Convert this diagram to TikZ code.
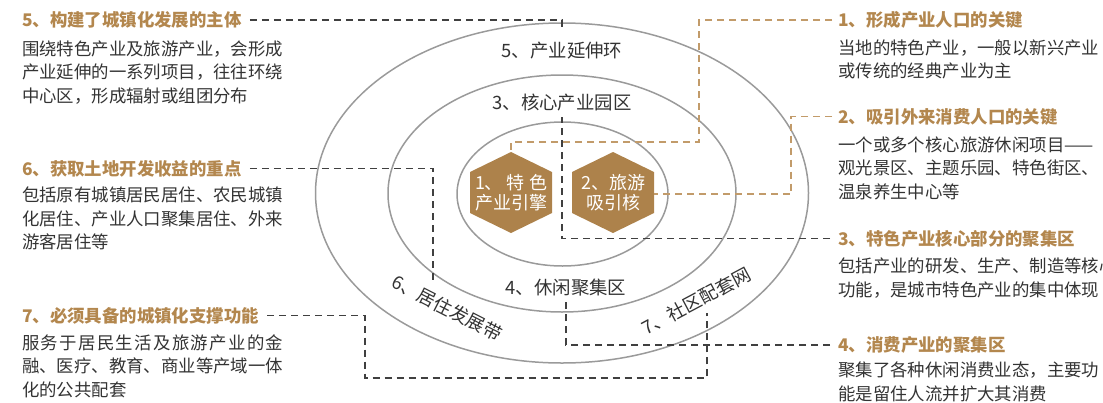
\documentclass[tikz,border=0pt]{standalone}
\usepackage{fontspec}
\setmainfont{Noto Sans CJK SC}
\usetikzlibrary{positioning}

\definecolor{gold}{HTML}{B3874E}
\definecolor{hexbrown}{HTML}{AD824B}
\definecolor{dashgold}{HTML}{C29B6A}
\definecolor{ringgray}{HTML}{9A9A9A}
\definecolor{txtgray}{HTML}{333333}
\definecolor{dashgray}{HTML}{404040}

\begin{document}
\begin{tikzpicture}[x=1pt, y=1pt,
  ring/.style={draw=ringgray, line width=1.5pt},
  title/.style={anchor=west, inner sep=0pt, text=gold,
    font=\fontsize{17.4}{17.4}\selectfont\bfseries, text height=15.3pt, text depth=2.1pt},
  body/.style={anchor=base west, inner sep=0pt, align=left, text=txtgray,
    font=\fontsize{17.4}{23.5}\selectfont},
  ringlabel/.style={inner sep=1pt, text=txtgray,
    font=\fontsize{18.4}{18.4}\selectfont, text height=16.2pt, text depth=2.2pt},
  hexlabel/.style={inner sep=0pt, align=center, text=white,
    font=\fontsize{18}{20}\selectfont},
  graydash/.style={draw=dashgray, line width=1.2pt, dash pattern=on 7pt off 5pt, shorten <=8pt},
  golddash/.style={draw=dashgold, line width=1.2pt, dash pattern=on 7pt off 5pt, shorten <=6pt}]

  \useasboundingbox (0,0) rectangle (1103,-402);

  % rings
  \draw[ring] (562,-193) ellipse [x radius=246.5pt, y radius=170pt];
  \draw[ring] (562,-193.5) ellipse [x radius=174pt, y radius=118.5pt];
  \draw[ring] (562.5,-194) ellipse [x radius=105.5pt, y radius=72pt];

  % hexagons
  \foreach \hx in {511,613}
    \fill[hexbrown] (\hx,-152) -- ++(41,-20) -- ++(0,-41) -- ++(-41,-20)
      -- ++(-41,20) -- ++(0,41) -- cycle;
  \coordinate (h1top) at (511,-152);
  \coordinate (h2right) at (654,-194);
  \node[hexlabel] (h1) at (511,-192.5) {\makebox[4em][s]{1、\hfil 特\hfil 色}\\产业引擎};
  \node[hexlabel] (h2) at (613,-192.5) {2、旅游\\吸引核};

  % names of rings
  \node[ringlabel] (l5) at (562,-50) {5、产业延伸环};
  \node[ringlabel] (l3) at (562,-102) {3、核心产业园区};
  \node[ringlabel] (l4) at (566,-287) {4、休闲聚集区};
  \node[ringlabel, rotate=-27] (l6) at (447,-308) {6、居住发展带};
  \node[ringlabel, rotate=28] (l7) at (696,-301) {7、社区配套网};

  % left column (body nodes sit on the baseline of their last line)
  \node[title] (t5) at (22,-20) {5、构建了城镇化发展的主体};
  \node[body] (b5) at (22,-102.1) {围绕特色产业及旅游产业，会形成\\产业延伸的一系列项目，往往环绕\\中心区，形成辐射或组团分布};
  \node[title] (t6) at (22,-168.5) {6、获取土地开发收益的重点};
  \node[body] (b6) at (22,-248.6) {包括原有城镇居民居住、农民城镇\\化居住、产业人口聚集居住、外来\\游客居住等};
  \node[title] (t7) at (22,-315.5) {7、必须具备的城镇化支撑功能};
  \node[body] (b7) at (22,-396.1) {{\addfontfeature{LetterSpace=7.7}服务于居民生活及旅游产业的金}\\融、医疗、教育、商业等产域一体\\化的公共配套};

  % right column
  \node[title] (t1) at (838,-20) {1、形成产业人口的关键};
  \node[body] (b1) at (838,-77.6) {当地的特色产业，一般以新兴产业\\或传统的经典产业为主};
  \node[title] (t2) at (838,-116.5) {2、吸引外来消费人口的关键};
  \node[body] (b2) at (838,-198.1) {一个或多个核心旅游休闲项目——\\观光景区、主题乐园、特色街区、\\温泉养生中心等};
  \node[title] (t3) at (838,-238.5) {3、特色产业核心部分的聚集区};
  \node[body] (b3) at (838,-296.1) {包括产业的研发、生产、制造等核心\\功能，是城市特色产业的集中体现};
  \node[title] (t4) at (838,-345) {4、消费产业的聚集区};
  \node[body] (b4) at (838,-400.1) {聚集了各种休闲消费业态，主要功\\能是留住人流并扩大其消费};

  % connectors
  \coordinate (e6) at (433,-283);
  \coordinate (k7) at (365,-378);
  \coordinate (e7) at (707,-313);
  \coordinate (k1) at (699,-142);
  \coordinate (k2) at (791,-194);

  \draw[graydash] (t5.east) -| ([yshift=8pt]l5.north);
  \draw[graydash] (t6.east) -| (e6);
  \draw[graydash] (t7.east) -| (k7) -| (e7);
  \draw[graydash] (t3.west) -| ([yshift=-5pt]l3.south);
  \draw[graydash] (t4.west) -| ([yshift=-3pt]l4.south);
  \draw[golddash] (t1.west) -| (k1) -| (h1top);
  \draw[golddash] (t2.west) -| (k2) -- (h2right);

\end{tikzpicture}
\end{document}
